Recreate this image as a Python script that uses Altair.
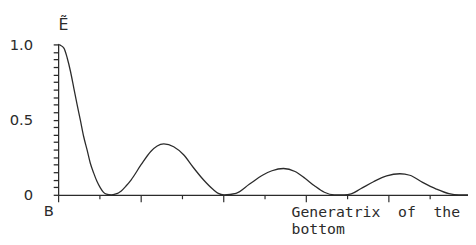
import altair as alt
import pandas as pd

# positions along the generatrix (1 unit = one minor tick) and relative value of E~
x_vals = [0.00, 0.05, 0.14, 0.22, 0.30, 0.38, 0.46, 0.54, 0.62, 0.70, 0.78, 0.86, 0.94,
          1.02, 1.10, 1.17, 1.29, 1.38, 1.53, 1.65, 1.77, 2.01, 2.25, 2.40, 2.56, 2.80,
          3.04, 3.28, 3.52, 3.75, 3.88, 4.02, 4.31, 4.63, 4.95, 5.18, 5.46, 5.74, 5.98,
          6.21, 6.45, 6.69, 6.93, 7.10, 7.33, 7.64, 7.96, 8.28, 8.52, 8.83, 9.15, 9.47,
          9.71, 9.93]
e_vals = [1.00, 0.995, 0.975, 0.91, 0.82, 0.71, 0.60, 0.495, 0.386, 0.30, 0.21, 0.146, 0.09,
          0.048, 0.016, 0.004, 0.0, 0.004, 0.026, 0.06, 0.10, 0.20, 0.29, 0.325, 0.338, 0.32,
          0.266, 0.18, 0.10, 0.037, 0.01, 0.0, 0.01, 0.07, 0.13, 0.16, 0.175, 0.155, 0.11,
          0.06, 0.017, 0.0, 0.0, 0.006, 0.04, 0.087, 0.126, 0.14, 0.13, 0.083, 0.04, 0.008,
          0.0, 0.0]

x_ticks = list(range(10))
y_ticks = [round(i * 0.05, 2) for i in range(21)]

df = pd.DataFrame({"u": x_vals, "e": e_vals})

ink = "#2b2b2b"

chart = alt.Chart(df).mark_line(
    interpolate="monotone", color=ink, strokeWidth=1.3
).encode(
    x=alt.X(
        "u:Q",
        scale=alt.Scale(domain=[0, 9.93], nice=False, zero=False),
        axis=alt.Axis(
            values=x_ticks,
            grid=False,
            ticks=True,
            domainColor=ink,
            domainWidth=1.3,
            tickColor=ink,
            tickWidth=1.2,
            tickSize={"condition": {"test": "datum.value % 2 === 0", "value": 7}, "value": 4},
            labelExpr="datum.value == 0 ? 'B' : ''",
            labelFont="DejaVu Sans",
            labelFontSize=15,
            labelColor=ink,
            labelOffset=-10,
            labelPadding=2,
            labelFlush=False,
            labelOverlap=False,
            title=["Generatrix\u00a0\u00a0of\u00a0\u00a0the", "bottom"],
            titleFont="DejaVu Sans Mono",
            titleFontSize=15,
            titleFontWeight="normal",
            titleColor=ink,
            titleAlign="left",
            titleAnchor="start",
            titleBaseline="alphabetic",
            titleLineHeight=17,
            titleX=237,
            titleY=22,
        ),
    ),
    y=alt.Y(
        "e:Q",
        scale=alt.Scale(domain=[0, 1], nice=False),
        axis=alt.Axis(
            values=y_ticks,
            grid=False,
            ticks=True,
            domainColor=ink,
            domainWidth=1.3,
            tickColor=ink,
            tickWidth=1.3,
            tickSize={"condition": {"test": "datum.value >= 0", "value": 5}, "value": 5},
            labelExpr="datum.value == 0 ? '0' : (abs(datum.value - 0.5) < 0.001 ? '0.5' : (datum.value == 1 ? '1.0' : ''))",
            labelFont="DejaVu Sans",
            labelFontSize=15,
            labelColor=ink,
            labelPadding=21,
            labelFlush=False,
            labelOverlap=False,
            title="Ẽ",
            titleFont="DejaVu Sans",
            titleFontSize=16,
            titleFontWeight="normal",
            titleColor=ink,
            titleAngle=0,
            titleAlign="center",
            titleBaseline="alphabetic",
            titleX=5,
            titleY=-15,
        ),
    ),
).properties(
    width=417,
    height=153,
    background="white",
    autosize=alt.AutoSizeParams(type="none"),
    padding={"left": 51, "top": 35, "right": 0, "bottom": 49},
).configure_view(stroke=None)

chart.save("out.html", embed_options={"renderer": "svg", "actions": False})
